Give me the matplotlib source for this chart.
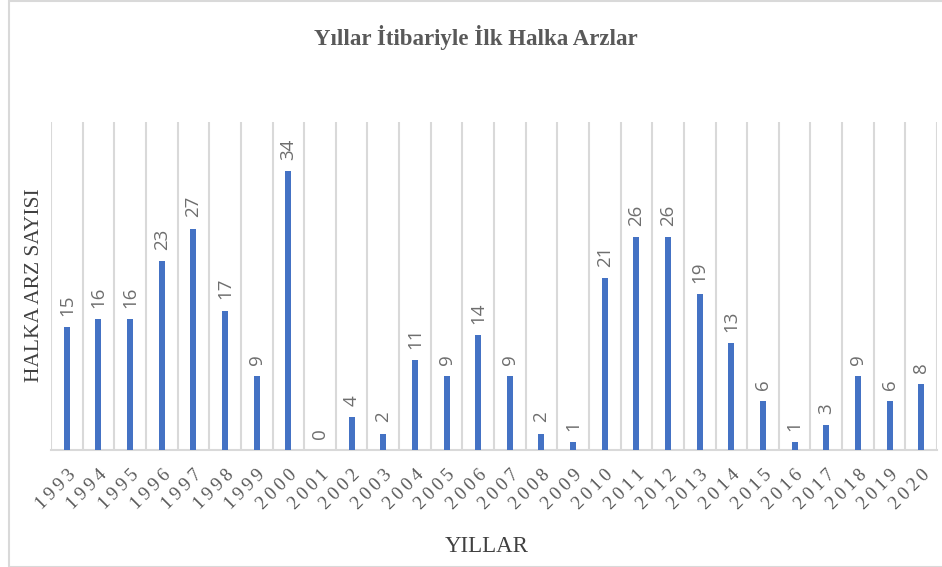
import matplotlib.pyplot as plt
import matplotlib.patches as patches
import numpy as np

years = [str(y) for y in range(1993, 2021)]
counts = [15, 16, 16, 23, 27, 17, 9, 34, 0, 4, 2, 11, 9, 14, 9, 2, 1,
          21, 26, 26, 19, 13, 6, 1, 3, 9, 6, 8]

title = "Yıllar İtibariyle İlk Halka Arzlar"
xlabel = "YILLAR"
ylabel = "HALKA ARZ SAYISI"

serif = "Liberation Serif"
grid_color = "#d9d9d9"
text_gray = "#595959"

fig = plt.figure(figsize=(9.42, 5.67), dpi=100)
ax = fig.add_axes([51 / 942, 1 - 450 / 567, 886 / 942, 328 / 567])

x = np.arange(len(years))
ax.bar(x, counts, width=0.19, color="#4472c4", zorder=3)

for xi, v in zip(x, counts):
    ax.annotate(str(v), (xi, v), xytext=(0, 8), textcoords="offset points",
                rotation=90, ha="center", va="bottom", fontsize=13.5,
                color="#6e6e6e", family="Open Sans")

# letter-spaced year labels, like the original
spaced = ["\u2009".join(y) for y in years]

ax.set_xlim(-0.5, len(years) - 0.5)
ax.set_ylim(0, 40)
ax.set_yticks([])
ax.set_xticks(x)
ax.set_xticklabels(spaced, rotation=45, ha="right", rotation_mode="anchor",
                   family=serif, fontsize=13.5, color=text_gray)
ax.tick_params(axis="x", length=0, pad=12)
ax.set_xticks(np.arange(-0.5, len(years), 1), minor=True)
ax.tick_params(axis="x", which="minor", length=0)
ax.grid(axis="x", which="minor", color=grid_color, linewidth=1.5, zorder=0)

for s in ["top", "left", "right"]:
    ax.spines[s].set_visible(False)
ax.spines["bottom"].set_color(grid_color)
ax.spines["bottom"].set_linewidth(1.5)

fig.text(476 / 942, 1 - 37 / 567, title, ha="center", va="center",
         family=serif, fontweight="bold", fontsize=16.5, color=text_gray)
fig.text(487 / 942, 1 - 546 / 567, xlabel, ha="center", va="center",
         family=serif, fontsize=16.5, color="#404040")
fig.text(35 / 942, 1 - 285 / 567, ylabel, ha="center", va="center",
         rotation=90, family=serif, fontsize=15.5, color="#404040")

fig.patches.append(patches.Rectangle((9 / 942, 0), 1.5, 1 - 1 / 567,
                                     transform=fig.transFigure, fill=False,
                                     edgecolor=grid_color, linewidth=1.5))

fig.savefig("out.png", dpi=100)
